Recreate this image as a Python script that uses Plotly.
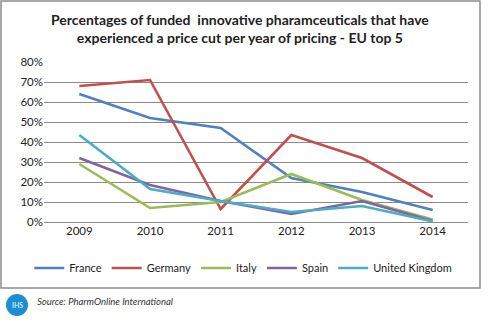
import plotly.graph_objects as go

years = ["2009", "2010", "2011", "2012", "2013", "2014"]
france = [64, 52, 47, 22, 15, 6]
germany = [68, 71, 6.5, 43.5, 32, 12.5]
italy = [29, 7, 10, 24, 11, 1.3]
spain = [32, 18.5, 10.5, 4, 10.5, 0.5]
uk = [43.5, 16.5, 10.5, 5, 8, 0.3]
series_names = ["France", "Germany", "Italy", "Spain", "United Kingdom"]
series_values = [france, germany, italy, spain, uk]
colors = ["#4F81BD", "#C0504D", "#9BBB59", "#8064A2", "#4BACC6"]
y_ticks = [0, 10, 20, 30, 40, 50, 60, 70, 80]
y_tick_labels = ["0%", "10%", "20%", "30%", "40%", "50%", "60%", "70%", "80%"]

FONT = "Lato, 'Liberation Sans', sans-serif"

fig = go.Figure()
for name, vals, col in zip(series_names, series_values, colors):
    fig.add_trace(go.Scatter(x=years, y=vals, mode="lines", name=name,
                             line=dict(color=col, width=2.6)))

L, R, T, B = 44, 22, 62, 103
pw, ph = 490 - L - R, 325 - T - B

def px(x):
    return (x - L) / pw

def py(y):
    return (325 - B - y) / ph

fig.update_layout(
    width=490, height=325,
    margin=dict(l=L, r=R, t=T, b=B),
    paper_bgcolor="white", plot_bgcolor="white",
    font=dict(family=FONT, size=11, color="#222"),
    showlegend=True,
    legend=dict(orientation="h", x=0.47, xanchor="center", y=py(268), yanchor="middle",
                font=dict(size=11, color="#222"), itemwidth=30, tracegroupgap=0),
    xaxis=dict(type="category", range=[-0.5, 5.5], showgrid=False, ticks="",
               showline=False, tickfont=dict(size=11.5, color="#222")),
    yaxis=dict(range=[0, 80], tickmode="array", tickvals=y_ticks, ticktext=y_tick_labels,
               showgrid=True, gridcolor="#8a8a8a", gridwidth=1, zeroline=True,
               zerolinecolor="#8a8a8a", zerolinewidth=1, showline=False, ticks="",
               tickfont=dict(size=11.5, color="#222")),
    shapes=[
        dict(type="rect", xref="paper", yref="paper", x0=px(1), x1=px(480), y0=py(288), y1=py(1),
             line=dict(color="#8c8c8c", width=1.5), fillcolor="rgba(0,0,0,0)", layer="below"),
        dict(type="circle", xref="paper", yref="paper", x0=px(6), x1=px(28), y0=py(316), y1=py(294),
             line=dict(color="#1b8fd2", width=0), fillcolor="#1b8fd2"),
    ],
    annotations=[
        dict(text="<b>Percentages of funded&nbsp; innovative pharamceuticals that have<br>experienced a price cut per year of pricing - EU top 5</b>",
             xref="paper", yref="paper", x=px(240), y=py(28), xanchor="center", yanchor="middle",
             showarrow=False, font=dict(size=14, color="#222", family=FONT)),
        dict(text="<i>Source: PharmOnline International</i>", xref="paper", yref="paper",
             x=px(35), y=py(301), xanchor="left", yanchor="middle", showarrow=False,
             font=dict(size=9.5, color="#333", family=FONT)),
        dict(text="IHS", xref="paper", yref="paper", x=px(17), y=py(305), xanchor="center",
             yanchor="middle", showarrow=False, font=dict(size=7, color="white", family=FONT)),
    ],
)

fig.write_html("out.html")
